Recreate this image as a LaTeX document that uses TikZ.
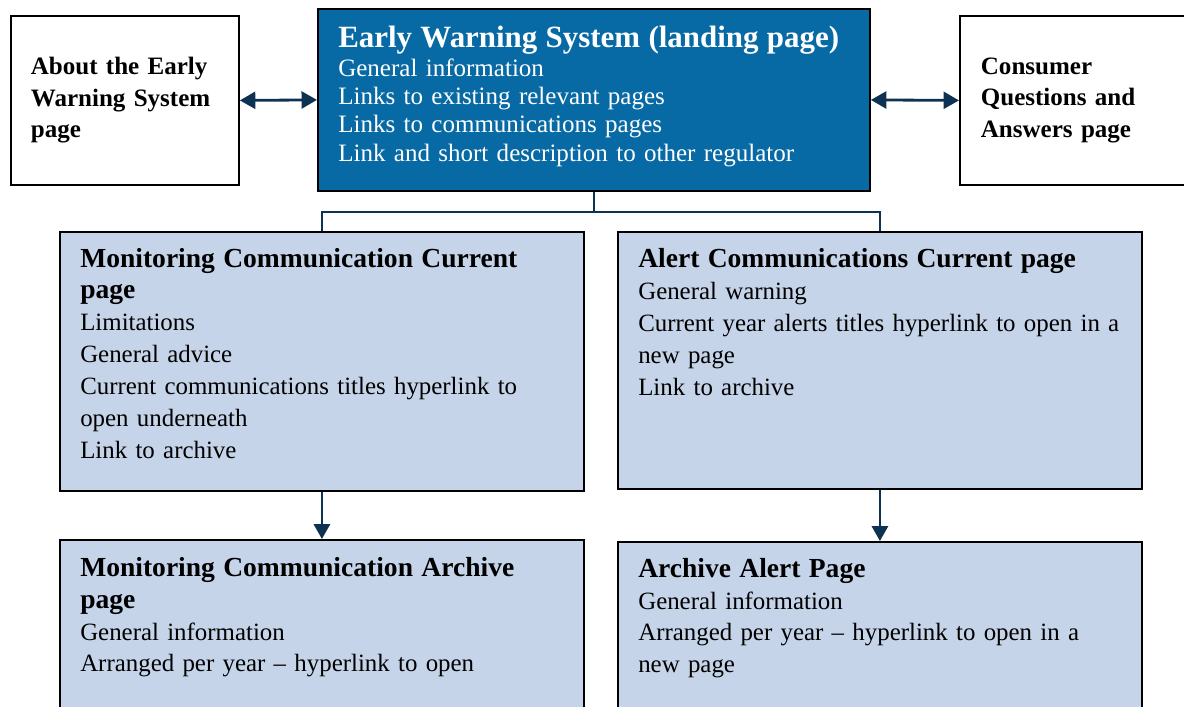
\documentclass[tikz,border=0pt]{standalone}
\usepackage{fontspec}
\setmainfont{Liberation Serif}
\usetikzlibrary{arrows.meta}

\definecolor{landblue}{RGB}{8,106,165}
\definecolor{paleblue}{RGB}{197,212,233}
\definecolor{navy}{RGB}{14,50,82}

\newcommand{\boxtitle}[1]{{\bfseries\fontsize{19.6}{22.76}\selectfont #1}}

\tikzset{
  pagebox/.style={draw=black, line width=1.3pt, inner sep=0pt, anchor=north west},
  sidetext/.style={font=\bfseries\fontsize{17.8}{22.4}\selectfont, align=left, inner xsep=0.5cm},
  boxtext/.style={anchor=base west, inner sep=0pt, align=left, text width=12.5cm,
    font=\fontsize{17.7}{22.76}\selectfont, xshift=0.525cm, yshift=-0.9cm},
  twoway/.style={navy, line width=2pt, {Triangle[length=11pt,width=12pt]}-{Triangle[length=11pt,width=12pt]}},
  oneway/.style={navy, line width=1.4pt, -{Triangle[length=10.5pt,width=11.5pt]}},
  bus/.style={navy, line width=1.2pt},
}

\begin{document}
\begin{tikzpicture}
\useasboundingbox (0,0) rectangle (29.6,-17.675);
\clip (0,0) rectangle (29.6,-17.675);

% top row
\node[pagebox, fill=white, sidetext, text width=4.7cm, minimum height=4.225cm] (about)
  at (0.25,-0.375) {About the Early\\Warning System\\page};
\node[pagebox, fill=landblue, minimum width=13.8cm, minimum height=4.55cm] (landing)
  at (7.925,-0.2) {};
\node[boxtext, text=white, text width=13.2cm, font=\fontsize{17.8}{20.1}\selectfont, yshift=-0.1cm] (landingtxt)
  at (landing.north west)
  {{\bfseries\fontsize{22}{22}\selectfont Early Warning System (landing page)}\\
   General information\\
   Links to existing relevant pages\\
   Links to communications pages\\
   Link and short description to other regulator};
\node[pagebox, fill=white, sidetext, inner xsep=0.525cm, text width=5.45cm, minimum height=4.225cm] (consumer)
  at (23.975,-0.375) {Consumer\\Questions and\\Answers page};

% second row
\node[pagebox, fill=paleblue, minimum width=13.1cm, minimum height=6.475cm] (moncur)
  at (1.475,-5.775) {};
\node[boxtext] (moncurtxt) at (moncur.north west)
  {\boxtitle{Monitoring Communication Current}\\
   \boxtitle{page}\\
   Limitations\\
   General advice\\
   Current communications titles hyperlink to\\
   open underneath\\
   Link to archive};
\node[pagebox, fill=paleblue, minimum width=13.1cm, minimum height=6.425cm] (alertcur)
  at (15.425,-5.775) {};
\node[boxtext, yshift=-0.025cm] (alertcurtxt) at (alertcur.north west)
  {\boxtitle{Alert Communications Current page}\\
   General warning\\
   Current year alerts titles hyperlink to open in a\\
   new page\\
   Link to archive};

% third row
\node[pagebox, fill=paleblue, minimum width=13.1cm, minimum height=5cm] (monarch)
  at (1.475,-13.475) {};
\node[boxtext, yshift=-0.025cm] (monarchtxt) at (monarch.north west)
  {\boxtitle{Monitoring Communication Archive}\\
   \boxtitle{page}\\
   General information\\
   Arranged per year -- hyperlink to open};
\node[pagebox, fill=paleblue, minimum width=13.1cm, minimum height=5cm] (alertarch)
  at (15.425,-13.525) {};
\node[boxtext] (alertarchtxt) at (alertarch.north west)
  {\boxtitle{Archive Alert Page}\\
   General information\\
   Arranged per year -- hyperlink to open in a\\
   new page};

% connectors
\draw[twoway] (about.east) -- (landing.west);
\draw[twoway] (landing.east) -- (consumer.west);
\draw[bus] (landing.south) -- ++(0,-0.5) -| (moncur.north);
\draw[bus] (landing.south) -- ++(0,-0.5) -| (alertcur.north);
\draw[oneway] (moncur.south) -- (monarch.north);
\draw[oneway] (alertcur.south) -- (alertarch.north);
\end{tikzpicture}
\end{document}
